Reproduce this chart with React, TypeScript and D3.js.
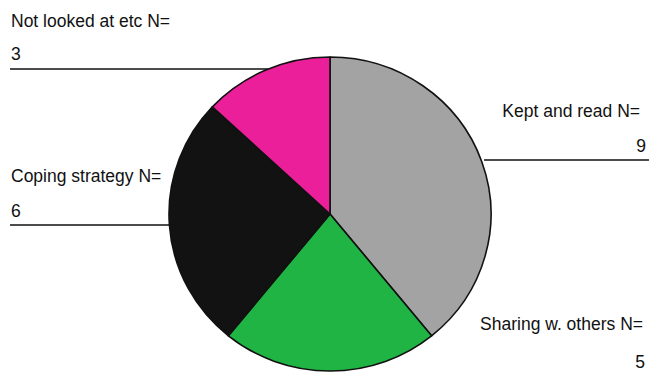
import React from "react";
import * as d3 from "d3";

const categories = ["Kept and read", "Sharing w. others", "Coping strategy", "Not looked at etc"];
const values = [9, 5, 6, 3];
const colors = ["#a3a3a3", "#1fb443", "#121212", "#ec1f9b"];

const W = 649;
const H = 372;
const cx = 330;
const cy = 214;
const R = 161;
const RY = 157;

export default function App() {
  const data = categories.map((c, i) => ({ c, v: values[i], col: colors[i] }));
  const pie = d3.pie<any>().value((d) => d.v).sort(null).startAngle(0).endAngle(2 * Math.PI);
  const arcs = pie(data);
  const arc = d3.arc<any>().innerRadius(0).outerRadius(R);
  const font = "'Liberation Sans', Arial, sans-serif";
  const labels = [
    { i: 3, x: 11, y1: 27, y2: 60, anchor: "start", nx: 11, lx1: 10, lx2: 268, ly: 69 },
    { i: 0, x: 640, y1: 117, y2: 152, anchor: "end", nx: 646, lx1: 484, lx2: 649, ly: 160 },
    { i: 2, x: 11, y1: 182, y2: 217, anchor: "start", nx: 11, lx1: 10, lx2: 172, ly: 225 },
    { i: 1, x: 643, y1: 330, y2: 368, anchor: "end", nx: 645, lx1: 0, lx2: 0, ly: 0 },
  ];
  return (
    <svg width={W} height={H} style={{ position: "absolute", left: 0, top: 0, background: "#fff" }}>
      {labels.map((l, k) =>
        l.lx2 > l.lx1 ? (
          <line key={"l" + k} x1={l.lx1} x2={l.lx2} y1={l.ly} y2={l.ly} stroke="#111" strokeWidth={1.5} />
        ) : null
      )}
      <g transform={`translate(${cx},${cy}) scale(1,${RY / R})`}>
        {arcs.map((a, i) => (
          <path
            key={i}
            d={arc(a) as string}
            fill={a.data.col}
            stroke="#111"
            strokeWidth={1.6}
            strokeLinejoin="round"
            vectorEffect="non-scaling-stroke"
          />
        ))}
      </g>
      {labels.map((l, k) => (
        <g key={"t" + k} fontFamily={font} fontSize={17.5} fill="#111">
          <text x={l.x} y={l.y1} textAnchor={l.anchor as any}>{categories[l.i]} N=</text>
          <text x={l.nx} y={l.y2} textAnchor={l.anchor as any}>{values[l.i]}</text>
        </g>
      ))}
    </svg>
  );
}
